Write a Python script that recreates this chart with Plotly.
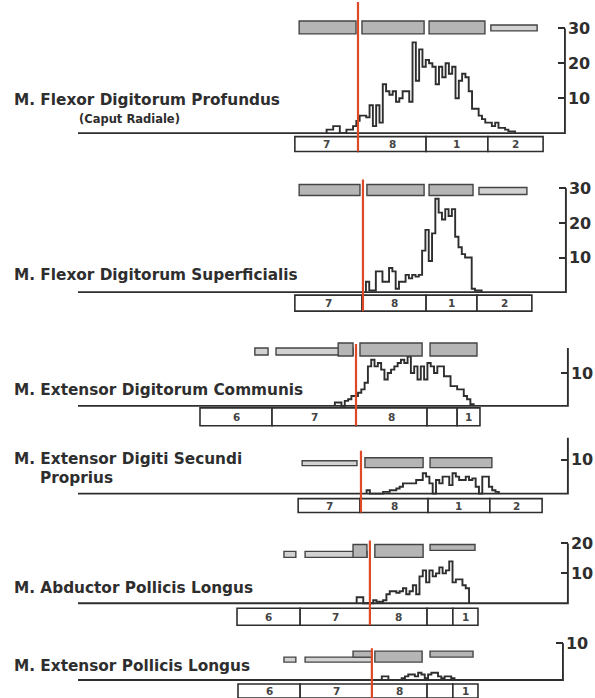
import numpy as np
import plotly.graph_objects as go

# ---------------- DATA ----------------
muscles = [
    "M. Flexor Digitorum Profundus",
    "M. Flexor Digitorum Superficialis",
    "M. Extensor Digitorum Communis",
    "M. Extensor Digiti Secundi",
    "M. Abductor Pollicis Longus",
    "M. Extensor Pollicis Longus",
]
sublabels = ["(Caput Radiale)", "", "", "Proprius", "", ""]

# cell counts per section (step histograms), bin width = 1 position unit
counts_fdp = [1, 1, 2, 2, 0, 0, 1, 1, 2, 3.5, 5, 5, 4.5, 8, 2, 8, 3, 14, 12, 11, 12, 9, 10, 12, 12, 9,
              26, 15, 24, 19, 21, 20, 19, 14, 19, 16, 20, 17, 19, 10, 15, 17, 16, 12, 7, 7, 5, 4, 3, 3,
              2, 3, 1.5, 1.5, 1, 0.5, 0.5]
counts_fds = [3, 0.5, 0.5, 6, 6, 3, 3, 7, 6, 1, 3, 3, 5, 4, 5, 4.5, 5, 12, 18, 9, 17, 27, 23, 21, 24,
              22, 24, 16, 13, 11, 10, 10, 1, 0.5, 0.5]
counts_edc = [1, 1, 0, 1.5, 2, 3, 3, 4, 5, 7, 12, 14, 12, 13, 11, 8, 10, 11, 12, 13, 14, 13, 15, 10,
              12, 8, 12, 8, 13, 12, 10, 12, 12, 9, 9, 6, 6, 5, 5, 3, 2, 0.5]
counts_edsp = [1, 0, 0, 0, 0, 0.5, 0.5, 1, 1, 1.5, 2, 3, 3, 3, 3, 4, 4, 6, 5, 3, 0, 4, 3, 5, 5, 2.5,
               6, 5, 4, 4, 5, 4, 4.5, 2, 0, 5, 5, 2, 1, 0.5]
counts_apl = [2, 2, 0, 0, 0, 1, 0.5, 0.5, 1, 3, 4, 4, 3.5, 4, 5, 3, 4, 6, 3, 9, 11, 7, 11, 9, 10, 12,
              10, 11, 14, 7, 8, 8, 6, 5]
counts_epl = [1, 1, 0, 0, 0, 0, 0.5, 1, 1.5, 1.5, 1, 2, 1.5, 0.5, 1.5, 2, 2, 1, 0.5, 1, 1, 0.5]
counts = [counts_fdp, counts_fds, counts_edc, counts_edsp, counts_apl, counts_epl]

# rostro-caudal position (units) of first histogram bin
hist_start = [98.8, 110.7, 101.3, 110.9, 107.9, 115.5]

# spinal segment boundaries and labels
seg_fdp = [89.2, 108.3, 128.9, 147.6, 164.3]
seg_fds = [89.2, 109.5, 128.9, 144.3, 160.9]
seg_edc = [60.5, 82.3, 107.7, 129.2, 138.3, 145.2]
seg_edsp = [90.2, 108.9, 129.5, 148.2, 164.0]
seg_apl = [71.7, 90.8, 111.9, 129.2, 137.0, 144.6]
seg_epl = [72.0, 90.8, 112.5, 129.2, 137.0, 144.6]
segments = [seg_fdp, seg_fds, seg_edc, seg_edsp, seg_apl, seg_epl]
seglab_fdp = ["7", "8", "1", "2"]
seglab_fds = ["7", "8", "1", "2"]
seglab_edc = ["6", "7", "8", "", "1"]
seglab_edsp = ["7", "8", "1", "2"]
seglab_apl = ["6", "7", "8", "", "1"]
seglab_epl = ["6", "7", "8", "", "1"]
seg_labels = [seglab_fdp, seglab_fds, seglab_edc, seglab_edsp, seglab_apl, seglab_epl]

# ventral root / rootlet ranges (start, end, kind)
roots_fdp = [(90.5, 107.7, "full"), (109.5, 128.3, "full"), (129.8, 146.7, "full"), (148.5, 162.5, "thin")]
roots_fds = [(90.5, 108.9, "full"), (111.0, 128.3, "full"), (129.8, 143.1, "full"), (144.9, 159.4, "thin")]
roots_edc = [(77.1, 81.1, "thin"), (83.5, 106.8, "thin"), (102.3, 106.8, "full"), (108.9, 127.7, "full"),
             (130.1, 144.3, "full")]
roots_edsp = [(91.4, 108.0, "thin"), (110.4, 128.0, "full"), (130.1, 148.8, "full")]
roots_apl = [(85.9, 89.5, "thin"), (92.3, 111.0, "thin"), (106.8, 111.0, "full"), (113.4, 128.0, "full"),
             (130.1, 143.7, "upper")]
roots_epl = [(85.9, 89.5, "thin"), (92.3, 112.5, "thin"), (106.8, 112.5, "upper"), (113.4, 127.7, "full"),
             (130.1, 143.1, "upper")]
roots = [roots_fdp, roots_fds, roots_edc, roots_edsp, roots_apl, roots_epl]

# reference (red) line position per panel
red_line = [108.3, 109.8, 107.7, 109.2, 111.9, 112.5]

# y axis extent and ticks
axis_top = [30, 30, 17.6, 16.5, 20, 10]
tick_vals = [[10, 20, 30], [10, 20, 30], [10], [10], [10, 20], [10]]

# ---------------- LAYOUT GEOMETRY (pixels) ----------------
W, H = 595, 698
X_MAX = 180.0
baseline_start = 23.6
axis_x = [170.9, 171.2, 171.8, 171.8, 171.8, 170.3]
base_px = [131.5, 291, 405, 493, 603, 680]
px_per_unit = [3.5, 3.47, 3.3, 3.4, 3.0, 3.7]
dom_px = [(0, 152), (172, 313), (335, 428), (430, 516), (533, 628), (636, 698)]
full_px = [(19, 32), (183, 194), (342, 355), (457, 467), (544, 557), (651, 662)]
thin_px = [(23, 29), (186, 193), (347, 354), (460, 465), (551, 557), (657, 662)]
upper_px = [(19, 25), (183, 189), (342, 348), (457, 462), (544, 550), (651, 657)]
segbox_px = [(135, 150), (294, 310), (407, 425), (498, 512), (608, 625), (684, 698)]
red_px = [(0, 150), (178, 310), (343, 425), (450, 512), (540, 625), (648, 698)]
label_px = [(12, 98), (12, 274), (12, 389), (12, 458), (12, 588), (12, 666)]
sublabel_px = [(77, 117), None, None, (38, 477), None, None]

INK = "#2e2e2e"
RED = "#de4a28"
FONT = "DejaVu Sans"

fig = go.Figure()
layout = dict(
    width=W, height=H, autosize=False,
    margin=dict(l=0, r=0, t=0, b=0),
    paper_bgcolor="white", plot_bgcolor="rgba(0,0,0,0)",
    showlegend=False,
    xaxis=dict(range=[0, X_MAX], domain=[0, 1], visible=False, fixedrange=True),
)
shapes = []
annotations = []

for i in range(6):
    yname = "y" if i == 0 else f"y{i+1}"
    ykey = "yaxis" if i == 0 else f"yaxis{i+1}"
    b, s = base_px[i], px_per_unit[i]

    def to_y(px, b=b, s=s):
        return (b - px) / s

    top, bot = dom_px[i]
    layout[ykey] = dict(
        domain=[1 - bot / H, 1 - top / H],
        range=[to_y(bot), to_y(top)],
        anchor="free", position=axis_x[i] / X_MAX, side="right",
        showline=False, showgrid=False, zeroline=False,
        ticks="inside", ticklen=7, tickwidth=1.8, tickcolor=INK,
        tickvals=tick_vals[i], ticktext=[str(v) for v in tick_vals[i]],
        tickfont=dict(family=FONT, size=16, color=INK, weight="bold"),
        ticklabelstandoff=2,
        fixedrange=True,
    )

    # baseline and vertical axis line
    fig.add_trace(go.Scatter(x=[baseline_start, axis_x[i], axis_x[i]], y=[0, 0, axis_top[i]],
                             mode="lines", line=dict(color=INK, width=1.9),
                             xaxis="x", yaxis=yname, hoverinfo="skip"))

    # step histogram
    c = counts[i]
    edges = hist_start[i] + np.arange(len(c) + 1)
    xs = [edges[0]] + list(edges[:-1]) + [edges[-1], edges[-1]]
    ys = [0] + list(c) + [c[-1], 0]
    fig.add_trace(go.Scatter(x=xs, y=ys, mode="lines", line=dict(color=INK, width=1.9, shape="hv"),
                             xaxis="x", yaxis=yname, hoverinfo="skip"))

    # segment boxes
    sb0, sb1 = segbox_px[i]
    e = segments[i]
    for k, lab in enumerate(seg_labels[i]):
        shapes.append(dict(type="rect", xref="x", yref=yname, x0=e[k], x1=e[k+1],
                           y0=to_y(sb1), y1=to_y(sb0), line=dict(color=INK, width=1.6),
                           fillcolor="white", layer="above"))
        if lab:
            annotations.append(dict(x=(e[k] + e[k+1]) / 2, y=to_y((sb0 + sb1) / 2), xref="x", yref=yname,
                                    text=lab, showarrow=False,
                                    font=dict(family=FONT, size=10.5, color="#444", weight="bold")))

    # root bars
    for (x0, x1, kind) in roots[i]:
        rows = {"full": full_px[i], "thin": thin_px[i], "upper": upper_px[i]}[kind]
        fill = "#b5b5b5" if kind != "thin" else "#d2d2d2"
        shapes.append(dict(type="rect", xref="x", yref=yname, x0=x0, x1=x1,
                           y0=to_y(rows[1]), y1=to_y(rows[0]),
                           line=dict(color="#444444", width=1.4), fillcolor=fill, layer="above"))

    # red reference line
    r0, r1 = red_px[i]
    shapes.append(dict(type="line", xref="x", yref=yname, x0=red_line[i], x1=red_line[i],
                       y0=to_y(r1), y1=to_y(r0), line=dict(color=RED, width=2.2), layer="above"))

    # muscle labels
    lx, ly = label_px[i]
    annotations.append(dict(x=lx / W, y=1 - ly / H, xref="paper", yref="paper", xanchor="left",
                            yanchor="middle", text=muscles[i], showarrow=False,
                            font=dict(family=FONT, size=15.3, color=INK, weight="bold")))
    if sublabels[i]:
        sx, sy = sublabel_px[i]
        size = 11.5 if i == 0 else 15.3
        annotations.append(dict(x=sx / W, y=1 - sy / H, xref="paper", yref="paper", xanchor="left",
                                yanchor="middle", text=sublabels[i], showarrow=False,
                                font=dict(family=FONT, size=size, color=INK, weight="bold")))

layout["shapes"] = shapes
layout["annotations"] = annotations
fig.update_layout(**layout)
fig.write_html("out.html")
